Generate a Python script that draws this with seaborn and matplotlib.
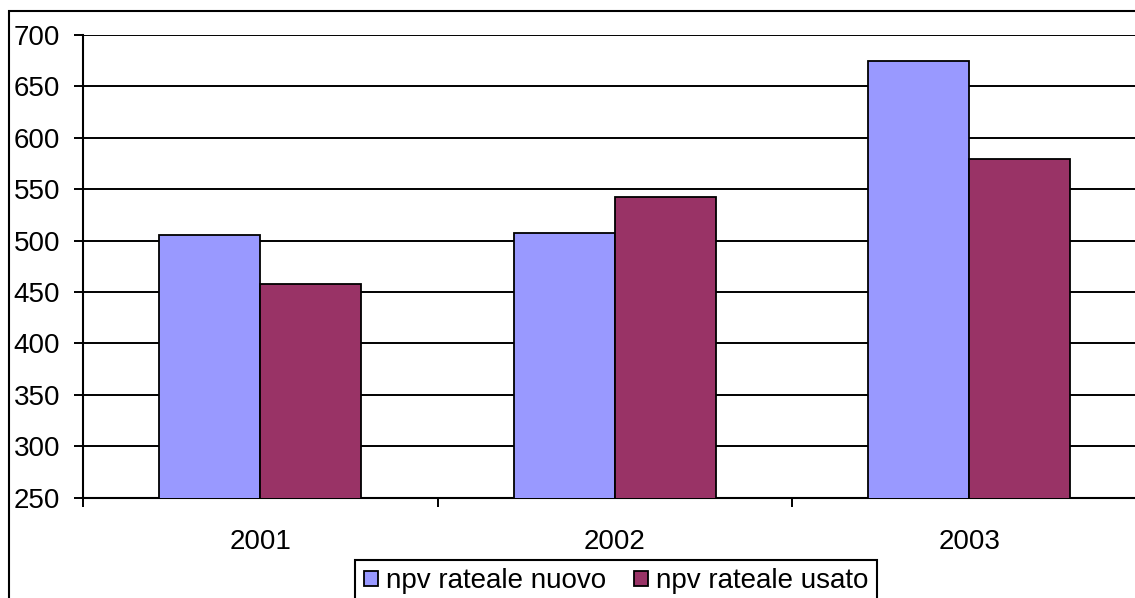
import matplotlib
matplotlib.use("Agg")
import matplotlib.pyplot as plt
from matplotlib.patches import Rectangle
import seaborn as sns
import pandas as pd

years = ["2001", "2002", "2003"]
series_names = ["npv rateale nuovo", "npv rateale usato"]
nuovo = [505.5, 507.7, 675]
usato = [457.7, 542, 579]
y_ticks = [250, 300, 350, 400, 450, 500, 550, 600, 650, 700]
colors = ["#9999FF", "#993366"]

df = pd.DataFrame({
    "year": years * 2,
    "series": [series_names[0]] * 3 + [series_names[1]] * 3,
    "value": nuovo + usato,
})

sns.set_style("white")
plt.rcParams["font.family"] = ["Liberation Sans", "DejaVu Sans"]
plt.rcParams["text.color"] = "black"
plt.rcParams["xtick.color"] = "black"
plt.rcParams["ytick.color"] = "black"
plt.rcParams["axes.labelcolor"] = "black"

FS = 20
W, H = 1135, 598
fig = plt.figure(figsize=(W / 100, H / 100), dpi=100)
ax_left, ax_right = 83, 1146.5
ax_top, ax_bottom = 35, 497.5
ax = fig.add_axes([ax_left / W, (H - ax_bottom) / H,
                   (ax_right - ax_left) / W, (ax_bottom - ax_top) / H])

sns.barplot(data=df, x="year", y="value", hue="series", palette=colors,
            width=0.57, gap=0, edgecolor="black", linewidth=1.3,
            saturation=1, ax=ax, zorder=3)

ax.set_ylim(250, 700)
ax.set_xlim(-0.5, 2.5)
ax.set_yticks(y_ticks)
ax.set_yticklabels([str(v) for v in y_ticks], fontsize=FS)
ax.set_axisbelow(True)
ax.yaxis.grid(True, color="black", linewidth=1.4)
ax.xaxis.grid(False)

ax.set_xticks([-0.5, 0.5, 1.5, 2.5])
ax.set_xticklabels(["", "", "", ""])
ax.set_xticks([0, 1, 2], minor=True)
ax.set_xticklabels(years, minor=True, fontsize=FS)
ax.tick_params(axis="x", which="major", direction="out", length=6.5, width=1.4,
               color="black", bottom=True)
ax.tick_params(axis="x", which="minor", length=0, pad=22.5)
ax.tick_params(axis="y", direction="out", length=6.5, width=1.4,
               color="black", left=True, pad=10)
ax.set_xlabel("")
ax.set_ylabel("")

for s in ["top", "right"]:
    ax.spines[s].set_visible(False)
for s in ["left", "bottom"]:
    ax.spines[s].set_color("black")
    ax.spines[s].set_linewidth(1.5)

handles, labels = ax.get_legend_handles_labels()
if ax.get_legend() is not None:
    ax.get_legend().remove()
leg = fig.legend(handles, labels, loc="upper center",
                 bbox_to_anchor=(616 / W, (H - 560) / H),
                 bbox_transform=fig.transFigure, ncol=2, fontsize=FS,
                 frameon=True, fancybox=False, framealpha=1,
                 edgecolor="black", borderpad=0.3, columnspacing=1.0,
                 handlelength=0.5, handleheight=0.5, handletextpad=0.3,
                 borderaxespad=0)
leg.get_frame().set_linewidth(1.5)

fig.add_artist(Rectangle((9 / W, -0.1), 1.2, (H - 11) / H + 0.1,
                         transform=fig.transFigure, fill=False,
                         edgecolor="black", linewidth=1.5))

fig.savefig("out.png", dpi=100)
